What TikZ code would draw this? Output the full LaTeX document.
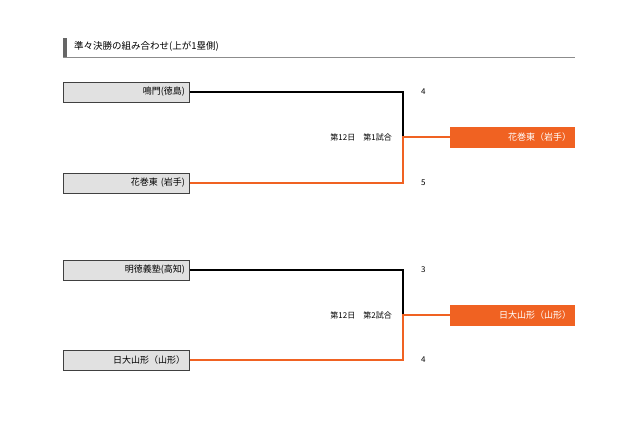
\documentclass[tikz,border=0pt]{standalone}
\usepackage{fontspec}
\newfontfamily\jp{Noto Sans CJK JP}
\usetikzlibrary{positioning}
\definecolor{winOrange}{RGB}{240,98,34}
\definecolor{boxGray}{RGB}{225,225,225}
\tikzset{
  team/.style={draw=black!75,line width=1pt,fill=boxGray,minimum width=126pt,minimum height=20pt,
    inner sep=3pt,align=right,text width=118pt,font=\jp\fontsize{9}{10}\selectfont},
  winner/.style={fill=winOrange,text=white,minimum width=125pt,minimum height=21pt,
    inner sep=3pt,align=right,text width=117pt,font=\jp\fontsize{9}{10}\selectfont},
  lose/.style={line width=1.2pt,black},
  win/.style={line width=2.4pt,winOrange},
  lbl/.style={font=\jp\fontsize{8}{9}\selectfont,inner sep=1pt}
}
\begin{document}
\begin{tikzpicture}[x=1pt,y=-1pt]
\useasboundingbox (0,0) rectangle (640,426);

% title
\fill[black!60] (63,38) rectangle (67,57);
\node[anchor=west,font=\jp\fontsize{9.5}{10}\selectfont,inner sep=0pt] (title) at (74,46) {準々決勝の組み合わせ(上が1塁側)};
\draw[black!45,line width=1pt] (63,57.5) -- (575,57.5);

% bracket: y top / y bottom / winner y / upper / lower / scores / game / winner name
\foreach \yt/\yb/\yw/\ta/\tb/\sa/\sb/\g/\w/\n in {
  92/183/137/鳴門(徳島)/花巻東 (岩手)/4/5/第1試合/花巻東（岩手）/a,
  270/360/315/明徳義塾(高知)/日大山形（山形）/3/4/第2試合/日大山形（山形）/b}
{
  \node[team] (\n1) at (126,\yt) {\ta};
  \node[team] (\n2) at (126,\yb) {\tb};
  \node[winner] (\n w) at (512.5,\yw) {\w};
  \coordinate (\n t) at (403,\yt);
  \coordinate (\n b) at (403,\yb);
  \coordinate (\n m) at (403,\yw);
  \draw[lose] (\n1.east) -- (\n t) -- (\n m);
  \draw[win] (\n2.east) -- (\n b) -- (\n m) -- (\n w.west);
  \node[lbl,anchor=west] (\n s1) at (420,\yt) {\sa};
  \node[lbl,anchor=west] (\n s2) at (420,\yb) {\sb};
  \node[lbl,anchor=east] (\n g) at (393,\yw) {第12日\hspace{1em}\g};
}
\end{tikzpicture}
\end{document}
